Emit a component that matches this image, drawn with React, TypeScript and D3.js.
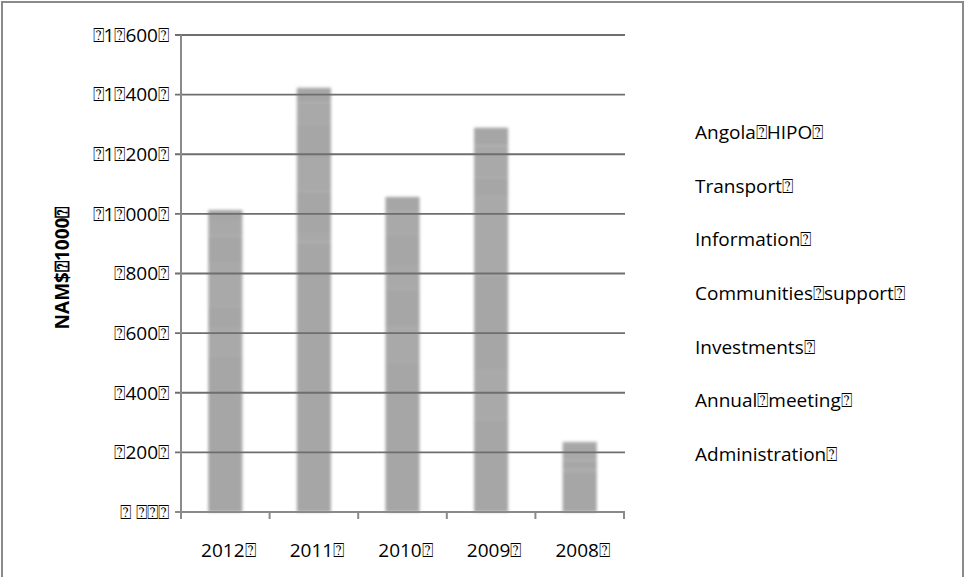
import React from "react";
import * as d3 from "d3";

const years = ["2012", "2011", "2010", "2009", "2008"];
const seriesNames = [
  "Administration",
  "Annual meeting",
  "Investments",
  "Communities support",
  "Information",
  "Transport",
  "Angola HIPO",
];
const administration = [520, 903, 500, 309, 131];
const annualMeeting = [97, 33, 120, 167, 12];
const investments = [71, 138, 125, 320, 30];
const communitiesSupport = [147, 107, 77, 261, 25];
const information = [90, 120, 110, 64, 20];
const transport = [48, 72, 75, 108, 10];
const angolaHipo = [40, 50, 50, 60, 7];
const yTicks = [0, 200, 400, 600, 800, 1000, 1200, 1400, 1600];
const yTickLabels = ["⍰ ⍰⍰⍰", "⍰200⍰", "⍰400⍰", "⍰600⍰", "⍰800⍰", "⍰1⍰000⍰", "⍰1⍰200⍰", "⍰1⍰400⍰", "⍰1⍰600⍰"];
const legendLabels = [
  "Angola⍰HIPO⍰",
  "Transport⍰",
  "Information⍰",
  "Communities⍰support⍰",
  "Investments⍰",
  "Annual⍰meeting⍰",
  "Administration⍰",
];
const yTitle = "NAM$⍰1000⍰";

const W = 966;
const H = 577;
const x0 = 181, x1 = 624, yTop = 35, yBot = 512;

export default function App() {
  const seriesValues = [administration, annualMeeting, investments, communitiesSupport, information, transport, angolaHipo];
  const rows = years.map((y, i) => {
    const r: any = { year: y };
    seriesNames.forEach((s, k) => (r[s] = seriesValues[k][i]));
    return r;
  });
  const stack = d3.stack<any>().keys(seriesNames)(rows);
  const x = d3.scaleBand().domain(years).range([x0, x1]).padding(0);
  const y = d3.scaleLinear().domain([0, 1600]).range([yBot, yTop]);
  const bw = x.bandwidth() * 0.385;
  const font = "'Open Sans', 'DejaVu Sans', sans-serif";
  const boundaries = [x0, ...years.map((yy) => (x(yy) as number) + x.bandwidth())];

  return (
    <svg width={W} height={H} style={{ position: "absolute", left: 0, top: 0, background: "#fff" }}>
      <defs>
        <filter id="blur" x="-20%" y="-5%" width="140%" height="110%">
          <feGaussianBlur stdDeviation="1.6" />
        </filter>
      </defs>
      <rect x={2} y={2} width={W - 5} height={H + 10} fill="#fff" stroke="#8a8a8a" strokeWidth={2} />
      <g filter="url(#blur)">
        {stack.map((layer, k) =>
          layer.map((d, i) => (
            <rect
              key={k + "-" + i}
              x={(x(years[i]) as number) + (x.bandwidth() - bw) / 2}
              y={y(d[1])}
              width={bw}
              height={y(d[0]) - y(d[1])}
              fill={k % 2 === 0 ? "#a6a6a6" : "#a9a9a9"}
            />
          ))
        )}
      </g>
      {yTicks.map((t, i) => (
        <g key={t}>
          <line x1={x0 - 6} x2={x1 + 1} y1={y(t)} y2={y(t)} stroke={t === 0 ? "#8a8a8a" : "#6e6e6e"} strokeWidth={1.8} />
          <text x={169} y={y(t)} dy="0.36em" textAnchor="end" fontFamily={font} fontSize={19} fill="#000">
            {yTickLabels[i]}
          </text>
        </g>
      ))}
      <line x1={x0} x2={x0} y1={yTop} y2={yBot + 7} stroke="#8a8a8a" strokeWidth={2} />
      {boundaries.map((b, i) => (
        <line key={i} x1={b} x2={b} y1={yBot} y2={yBot + 7} stroke="#8a8a8a" strokeWidth={2} />
      ))}
      {years.map((yy) => (
        <text key={yy} x={(x(yy) as number) + x.bandwidth() / 2 + 3} y={557} textAnchor="middle" fontFamily={font} fontSize={19} fill="#000">
          {yy + "⍰"}
        </text>
      ))}
      <text
        transform={`translate(69,268) rotate(-90)`}
        textAnchor="middle"
        fontFamily={font}
        fontWeight="bold"
        fontSize={19}
        fill="#000"
      >
        {yTitle}
      </text>
      {legendLabels.map((l, i) => (
        <text key={l} x={695} y={132 + i * 53.7} dy="0.36em" fontFamily={font} fontSize={19} fill="#000">
          {l}
        </text>
      ))}
    </svg>
  );
}
